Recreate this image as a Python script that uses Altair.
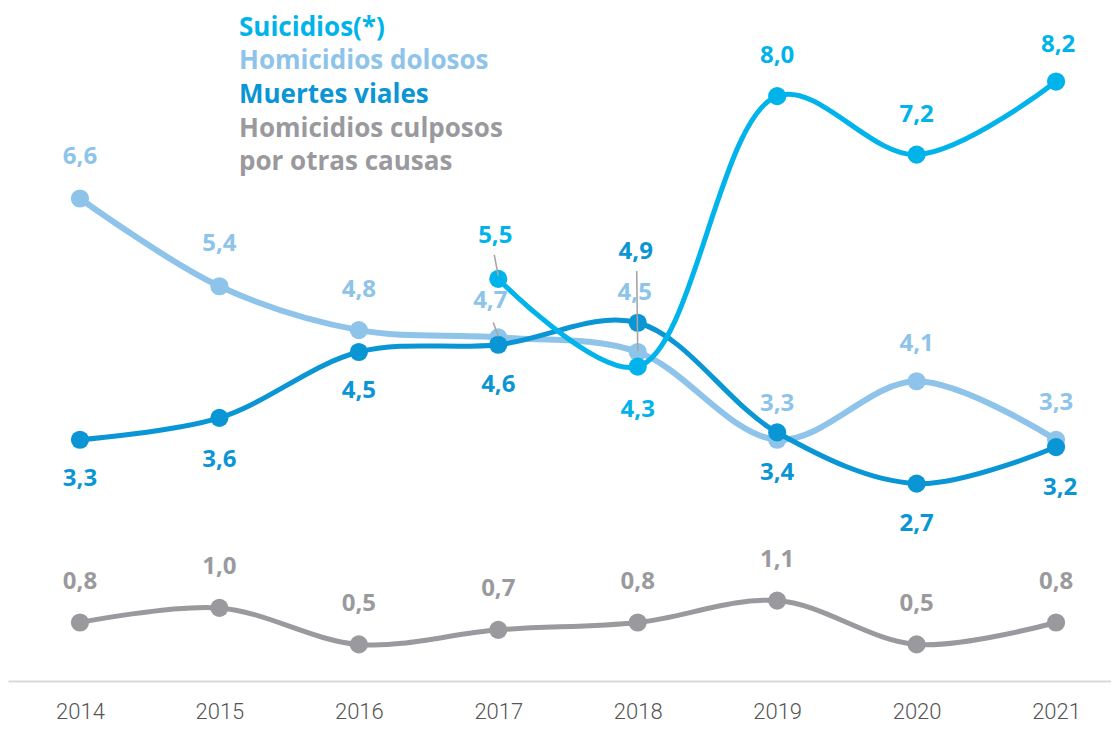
import altair as alt
import pandas as pd

# ---- data ----
years = [2014, 2015, 2016, 2017, 2018, 2019, 2020, 2021]
suicidios = [None, None, None, 5.5, 4.3, 8.0, 7.2, 8.2]
dolosos = [6.6, 5.4, 4.8, 4.7, 4.5, 3.3, 4.1, 3.3]
viales = [3.3, 3.6, 4.5, 4.6, 4.9, 3.4, 2.7, 3.2]
culposos = [0.8, 1.0, 0.5, 0.7, 0.8, 1.1, 0.5, 0.8]

series_names = ["Suicidios(*)", "Homicidios dolosos", "Muertes viales",
                "Homicidios culposos", "por otras causas"]

# ---- styling / label placement (pixels) ----
colors = {"sui": "#00B4EB", "dol": "#8EC3EA", "via": "#0A95D5", "cul": "#9A9A9E"}
dy_px = {
    "sui": [0, 0, 0, -43, 43, -40, -40, -37],
    "dol": [-42, -42, -40, -36, -59, -36, -37, -37],
    "via": [39, 42, 39, 40, -71, 41, 40, 41],
    "cul": [-41, -41, -40, -41, -41, -41, -40, -41],
}
dx_px = {
    "sui": [0, 0, 0, -3, 0, 0, 0, 2],
    "dol": [0, 0, 0, -8, -3, 0, 0, 0],
    "via": [0, 0, 0, 0, -2, 0, 0, 4],
    "cul": [0, 0, 0, 0, 0, 0, 0, 0],
}
# leader lines: (series, year, value, top offset px, bottom offset px, dx px)
leaders = [
    ("sui", 2017, 5.5, -24, -3, -4),
    ("dol", 2017, 4.7, -15, -1, -5),
    ("dol", 2018, 4.5, -81, -1, -1),
]

W, H = 1103, 673
YMAX = 9.206
XMIN, XMAX = 2013.484, 2021.394
py = YMAX / H
px = (XMAX - XMIN) / W

data = {"sui": suicidios, "dol": dolosos, "via": viales, "cul": culposos}

rows = []
for key, vals in data.items():
    for i, (yr, v) in enumerate(zip(years, vals)):
        if v is None:
            continue
        rows.append({
            "key": key, "year": yr, "value": v,
            "lx": yr + dx_px[key][i] * px,
            "ly": v - dy_px[key][i] * py,
            "label": f"{v:.1f}".replace(".", ","),
        })
df = pd.DataFrame(rows)

lrows = []
for key, yr, v, top, bot, dx in leaders:
    lrows.append({"x1": yr + dx * px, "y1": v - top * py, "x2": yr, "y2": v - bot * py})
ldf = pd.DataFrame(lrows)

xs = alt.Scale(domain=[XMIN, XMAX], nice=False, zero=False)
ys = alt.Scale(domain=[0, YMAX], nice=False)

base_x = alt.X("year:Q", scale=xs,
               axis=alt.Axis(values=years, format="d", title=None, ticks=False,
                             grid=False, domainColor="#d9d9d9", domainWidth=2,
                             labelFont="Roboto", labelFontWeight=300, labelFontSize=22,
                             labelColor="#555555", labelPadding=20))
base_y = alt.Y("value:Q", scale=ys, axis=None)

layers = []
for key in ["cul", "dol", "via", "sui"]:
    d = df[df.key == key]
    c = colors[key]
    sw = 6 if key == "dol" else 5
    layers.append(alt.Chart(d).mark_line(interpolate="catmull-rom", strokeWidth=sw,
                                         color=c).encode(x=base_x, y=base_y))
    layers.append(alt.Chart(d).mark_circle(size=330, opacity=1, color=c)
                  .encode(x=base_x, y=base_y))

layers.append(alt.Chart(ldf).mark_rule(color="#a6a6a6", strokeWidth=1.6).encode(
    x=alt.X("x1:Q", scale=xs), y=alt.Y("y1:Q", scale=ys),
    x2="x2:Q", y2="y2:Q"))

for key in ["cul", "dol", "via", "sui"]:
    d = df[df.key == key]
    layers.append(alt.Chart(d).mark_text(font="Open Sans", fontWeight=700, fontSize=24,
                                         color=colors[key], baseline="middle",
                                         align="center")
                  .encode(x=alt.X("lx:Q", scale=xs), y=alt.Y("ly:Q", scale=ys),
                          text="label:N"))

leg_colors = [colors["sui"], colors["dol"], colors["via"], colors["cul"], colors["cul"]]
leg_y = [28, 61, 95, 129, 162]
for i, name in enumerate(series_names):
    layers.append(alt.Chart(pd.DataFrame({"d": [0]})).mark_text(
        font="Open Sans", fontWeight=700, fontSize=26, color=leg_colors[i],
        align="left", baseline="alphabetic").encode(
        x=alt.value(231), y=alt.value(leg_y[i]), text=alt.value(name)))

chart = alt.layer(*layers).properties(
    width=W, height=H, padding=0
).configure_view(stroke=None)

chart.save("out.html", embed_options={"renderer": "svg", "actions": False})
